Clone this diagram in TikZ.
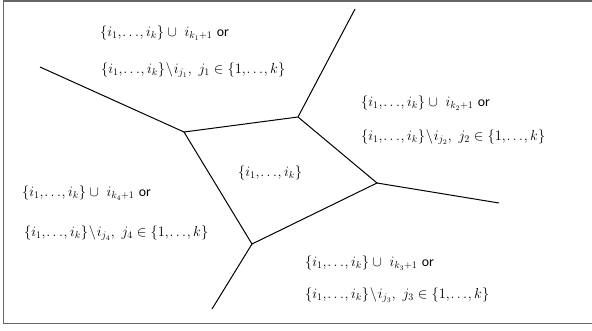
\documentclass[tikz,border=0pt]{standalone}
\usepackage{amsmath}
\usepackage{fontspec}
\newfontfamily\orfont{Carlito}
\begin{document}
\begin{tikzpicture}[x=1pt,y=-1pt,
  edge/.style={line width=1pt,black},
  frameline/.style={line width=1.4pt,draw=black!60},
  lbl/.style={inner sep=0pt,anchor=west,font=\fontsize{13.8}{16}\selectfont}]
\useasboundingbox (0,0) rectangle (592,330);
\draw[frameline] (592,1) -- (3.3,1) -- (3.3,323.4) -- (592,323.4);
% vertices
\coordinate (A) at (184,132);
\coordinate (B) at (298,117);
\coordinate (C) at (377,183);
\coordinate (D) at (252,244);
\coordinate (Ea) at (40,67);
\coordinate (Eb) at (355,9);
\coordinate (Ec) at (499,203);
\coordinate (Ed) at (212,309);
\draw[edge,line join=miter] (A) -- (B) -- (C) -- (D) -- cycle;
\draw[edge] (A) -- (Ea);
\draw[edge] (B) -- (Eb);
\draw[edge] (C) -- (Ec);
\draw[edge] (D) -- (Ed);
% labels
\newcommand{\setik}{\{i_1,\mkern-2mu\dots\mkern-2mu,i_k\}}
\newcommand{\setok}{\{1,\mkern-2mu\dots\mkern-2mu,k\}}
\node[lbl] (c) at (238,173) {$\setik$};
\node[lbl] (l1a) at (100,33) {$\setik\cup\ i_{k_1+1}$\ {\orfont or}};
\node[lbl] (l1b) at (101,70) {$\setik\!\setminus\! i_{j_1},\ j_1\in\setok$};
\node[lbl] (l2a) at (361,103) {$\setik\cup\ i_{k_2+1}$\ {\orfont or}};
\node[lbl] (l2b) at (361,137) {$\setik\!\setminus\! i_{j_2},\ j_2\in\setok$};
\node[lbl] (l4a) at (22,193) {$\setik\cup\ i_{k_4+1}$\ {\orfont or}};
\node[lbl] (l4b) at (24,233) {$\setik\!\setminus\! i_{j_4},\ j_4\in\setok$};
\node[lbl] (l3a) at (305,263) {$\setik\cup\ i_{k_3+1}$\ {\orfont or}};
\node[lbl] (l3b) at (305,295) {$\setik\!\setminus\! i_{j_3},\ j_3\in\setok$};
\end{tikzpicture}
\end{document}
